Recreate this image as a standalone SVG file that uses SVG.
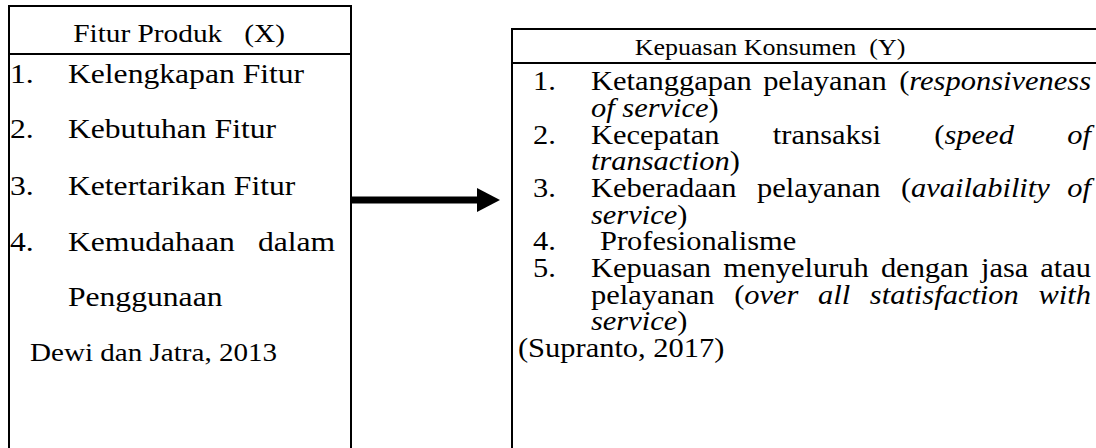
<svg xmlns="http://www.w3.org/2000/svg" width="1096" height="448" viewBox="0 0 1096 448">
<style>
.box{fill:#fff;stroke:#000;stroke-width:2}
.sep{stroke:#000;stroke-width:2}
text{font-family:"Liberation Serif","Times New Roman",serif;fill:#000;white-space:pre}
.t{font-size:25.5px}
.it{font-size:27.5px}
.src{font-size:25.3px}
.h{font-size:22.6px}
.r{font-size:26.5px}
.i{font-style:italic}
.conn{stroke:#000;stroke-width:7;fill:none}
</style>
<defs>
<marker id="ah" markerUnits="userSpaceOnUse" markerWidth="24" markerHeight="26" refX="0" refY="12" orient="auto">
<path d="M0,0 L23,12 L0,24 Z" fill="#000"/>
</marker>
</defs>
<rect width="1096" height="448" fill="#fff"/>
<g id="node-x">
<rect class="box" x="9" y="6" width="342" height="470"/>
<line class="sep" x1="9" y1="54" x2="351" y2="54"/>
<g transform="scale(1.15,1)">
<text class="t" x="155.7" y="42" text-anchor="middle">Fitur Produk   (X)</text>
<text class="it" x="8.7" y="83">1.</text>
<text class="it" x="59.1" y="83">Kelengkapan Fitur</text>
<text class="it" x="8.7" y="138.5">2.</text>
<text class="it" x="59.1" y="138.5">Kebutuhan Fitur</text>
<text class="it" x="8.7" y="195.5">3.</text>
<text class="it" x="59.1" y="195.5">Ketertarikan Fitur</text>
<text class="it" x="8.7" y="251.5">4.</text>
<text class="it" x="59.1" y="251.5">Kemudahaan</text>
<text class="it" x="224.3" y="251.5">dalam</text>
<text class="it" x="59.1" y="306.5">Penggunaan</text>
<text class="src" x="26.1" y="361.5">Dewi dan Jatra, 2013</text>
</g>
</g>
<g id="node-y">
<rect class="box" x="512" y="29" width="600" height="450"/>
<line class="sep" x1="512" y1="63" x2="1096" y2="63"/>
<g transform="scale(1.15,1)">
<text class="h" x="669.6" y="55" text-anchor="middle">Kepuasan Konsumen  (Y)</text>
<text class="r" x="463.5" y="90.5">1.</text>
<text class="r" x="513.9" y="90.5">Ketanggapan</text>
<text class="r" x="663.6" y="90.5">pelayanan</text>
<text class="r" x="948.7" y="90.5" text-anchor="end">(<tspan class="i">responsiveness</tspan></text>
<text class="r" x="513.9" y="117.2"><tspan class="i">of service</tspan>)</text>
<text class="r" x="463.5" y="143.8">2.</text>
<text class="r" x="513.9" y="143.8">Kecepatan</text>
<text class="r" x="672" y="143.8">transaksi</text>
<text class="r" x="812.5" y="143.8">(<tspan class="i">speed</tspan></text>
<text class="r i" x="948.7" y="143.8" text-anchor="end">of</text>
<text class="r" x="513.9" y="170.5"><tspan class="i">transaction</tspan>)</text>
<text class="r" x="463.5" y="197.1">3.</text>
<text class="r" x="513.9" y="197.1">Keberadaan</text>
<text class="r" x="658.2" y="197.1">pelayanan</text>
<text class="r" x="783.4" y="197.1">(<tspan class="i">availability</tspan></text>
<text class="r i" x="948.7" y="197.1" text-anchor="end">of</text>
<text class="r" x="513.9" y="223.8"><tspan class="i">service</tspan>)</text>
<text class="r" x="463.5" y="250.4">4.</text>
<text class="r" x="521.7" y="250.4">Profesionalisme</text>
<text class="r" x="463.5" y="277.1">5.</text>
<text class="r" x="513.9" y="277.1">Kepuasan</text>
<text class="r" x="628.9" y="277.1">menyeluruh</text>
<text class="r" x="766" y="277.1">dengan</text>
<text class="r" x="853" y="277.1">jasa</text>
<text class="r" x="948.7" y="277.1" text-anchor="end">atau</text>
<text class="r" x="513.9" y="303.7">pelayanan</text>
<text class="r" x="638.4" y="303.7">(<tspan class="i">over</tspan></text>
<text class="r i" x="711.3" y="303.7">all</text>
<text class="r i" x="756.4" y="303.7">statisfaction</text>
<text class="r i" x="948.7" y="303.7" text-anchor="end">with</text>
<text class="r" x="513.9" y="330.4"><tspan class="i">service</tspan>)</text>
<text class="r" x="450.4" y="357">(Supranto, 2017)</text>
</g>
</g>
<g id="connectors">
<line class="conn" x1="352" y1="200" x2="477" y2="200" marker-end="url(#ah)"/>
</g>
</svg>
